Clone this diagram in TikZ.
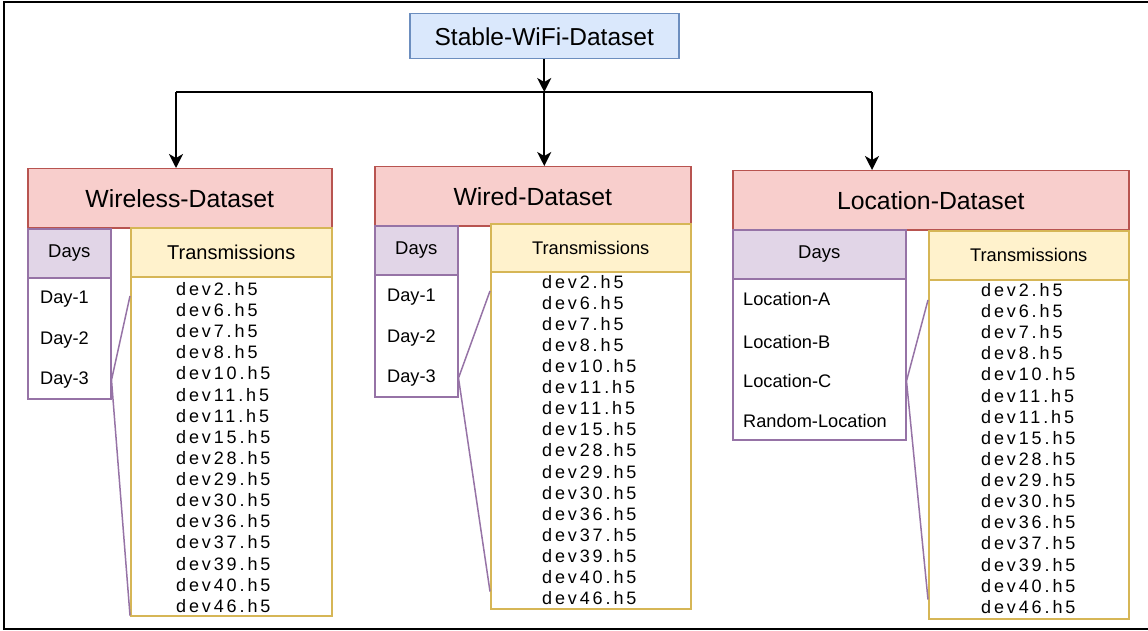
\documentclass[tikz,border=0pt]{standalone}
\usepackage{fontspec}
\setmainfont{Liberation Sans}
\newfontfamily\devfont[LetterSpace=16]{Liberation Sans}
\usetikzlibrary{arrows.meta}

\definecolor{rootfill}{HTML}{DAE8FC}
\definecolor{rootline}{HTML}{6C8EBF}
\definecolor{setfill}{HTML}{F8CECC}
\definecolor{setline}{HTML}{B85450}
\definecolor{dayfill}{HTML}{E1D5E7}
\definecolor{dayline}{HTML}{9673A6}
\definecolor{txfill}{HTML}{FFF2CC}
\definecolor{txline}{HTML}{D6B656}

\tikzset{
  box/.style={rectangle, anchor=north west, inner sep=0pt, line width=1.5pt},
  rootbox/.style={box, draw=rootline, fill=rootfill, font=\fontsize{24.5}{28}\selectfont},
  setbox/.style={box, draw=setline, fill=setfill, font=\fontsize{24.8}{28}\selectfont},
  dayhead/.style={box, draw=dayline, fill=dayfill, font=\fontsize{18.5}{22}\selectfont},
  daybody/.style={box, draw=dayline, fill=white},
  txhead/.style={box, draw=txline, fill=txfill, font=\fontsize{18.3}{22}\selectfont},
  txbody/.style={box, draw=txline, fill=white},
  item/.style={anchor=west, inner sep=0pt, font=\fontsize{18.2}{22}\selectfont},
  devitem/.style={anchor=west, inner sep=0pt, font=\devfont\fontsize{18}{21}\selectfont},
  link/.style={draw=dayline, line width=1.5pt},
  arrow/.style={line width=1.6pt, -{Stealth[length=14pt, width=14pt, inset=4pt]}}
}

\begin{document}
\begin{tikzpicture}[x=1pt, y=-1pt]
\useasboundingbox (0,0) rectangle (1148,631);
\draw[line width=1.6pt] (4,2) rectangle (1160,629);

\node[rootbox, minimum width=269pt, minimum height=45pt] (root) at (409,13) {Stable-WiFi-Dataset};

% wireless
\node[setbox, minimum width=304pt, minimum height=59pt] (wl) at (27,168) {Wireless-Dataset};
\node[dayhead, minimum width=83pt, minimum height=49pt] (wl-dh) at (27,228) {Days};
\node[daybody, minimum width=83pt, minimum height=121pt] (wl-db) at (27,277) {};
\node[txhead, minimum width=201pt, minimum height=49pt, font=\fontsize{20}{24}\selectfont] (wl-th) at (130,227) {Transmissions};
\node[txbody, minimum width=201pt, minimum height=339pt] (wl-tb) at (130,276) {};
\foreach \t/\yy [count=\i] in {Day-1/299, Day-2/340, Day-3/380}
  \node[item] (wl-day\i) at (40,\yy) {\t};
\foreach \d [count=\i] in {2,6,7,8,10,11,11,15,28,29,30,36,37,39,40,46}
  \node[devitem] (wl-dev\i) at (176,{289+21.13*(\i-1)}) {dev\d.h5};
\draw[link] ([yshift=-20pt]wl-tb.north west) -- (wl-db.east |- wl-day3) -- ([yshift=1pt]wl-tb.south west);

% wired
\node[setbox, minimum width=316pt, minimum height=59pt] (wd) at (374,166) {Wired-Dataset};
\node[dayhead, minimum width=83pt, minimum height=49pt] (wd-dh) at (374,225) {Days};
\node[daybody, minimum width=83pt, minimum height=122pt] (wd-db) at (374,274) {};
\node[txhead, minimum width=200pt, minimum height=48pt] (wd-th) at (490,223) {Transmissions};
\node[txbody, minimum width=200pt, minimum height=337pt] (wd-tb) at (490,271) {};
\foreach \t/\yy [count=\i] in {Day-1/297, Day-2/338, Day-3/378}
  \node[item] (wd-day\i) at (387,\yy) {\t};
\foreach \d [count=\i] in {2,6,7,8,10,11,11,15,28,29,30,36,37,39,40,46}
  \node[devitem] (wd-dev\i) at (542,{282+21.07*(\i-1)}) {dev\d.h5};
\draw[link] ([yshift=-20pt]wd-tb.north west) -- (wd-db.east |- wd-day3) -- ([yshift=18pt]wd-tb.south west);

% location
\node[setbox, minimum width=396pt, minimum height=59pt] (ld) at (732,170) {Location-Dataset};
\node[dayhead, minimum width=173pt, minimum height=49pt] (ld-dh) at (732,229) {Days};
\node[daybody, minimum width=173pt, minimum height=161pt] (ld-db) at (732,278) {};
\node[txhead, minimum width=200pt, minimum height=49pt] (ld-th) at (928,230) {Transmissions};
\node[txbody, minimum width=200pt, minimum height=339pt] (ld-tb) at (928,279) {};
\foreach \t/\yy [count=\i] in {Location-A/299, Location-B/342, Location-C/381, Random-Location/421}
  \node[item] (ld-loc\i) at (743,\yy) {\t};
\foreach \d [count=\i] in {2,6,7,8,10,11,11,15,28,29,30,36,37,39,40,46}
  \node[devitem] (ld-dev\i) at (981,{290+21.13*(\i-1)}) {dev\d.h5};
\draw[link] ([yshift=-21pt]ld-tb.north west) -- (ld-db.east |- ld-loc3) -- ([yshift=20pt]ld-tb.south west);

% arrows
\coordinate (hub) at (root.south |- 0,92);
\coordinate (hubl) at (176,92);
\coordinate (hubr) at (872,92);
\draw[arrow] (root) -- (hub);
\draw[line width=1.6pt] (hubl) -- (hubr);
\draw[arrow] (hubl) -- (hubl |- wl.north);
\draw[arrow] (hub) -- (hub |- wd.north);
\draw[arrow] (hubr) -- (hubr |- ld.north);
\end{tikzpicture}
\end{document}
